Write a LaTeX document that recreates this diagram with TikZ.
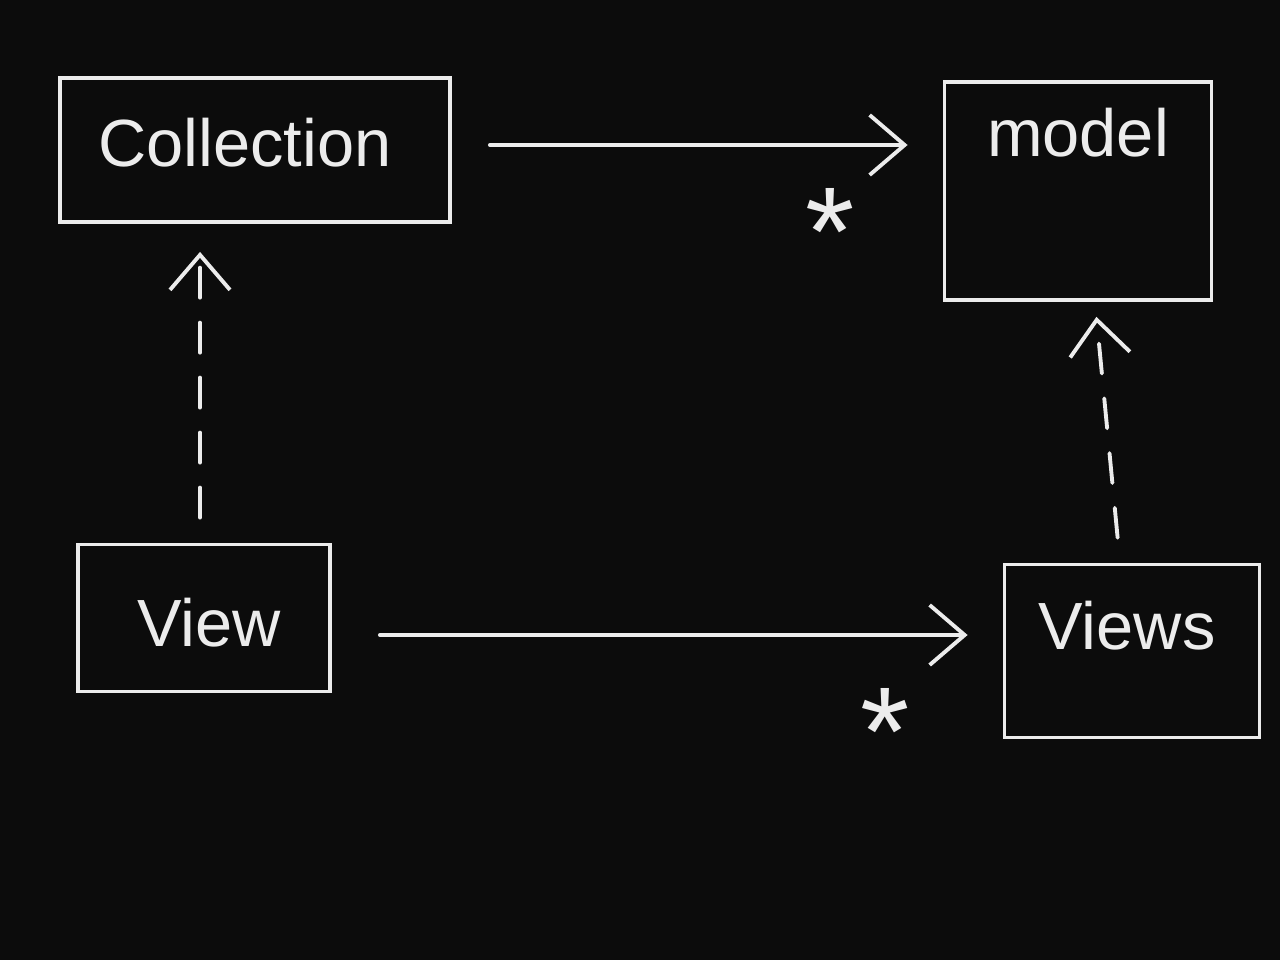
\documentclass[tikz,border=0pt]{standalone}
\usepackage{fontspec}
\setmainfont{Liberation Sans}
\usetikzlibrary{arrows.meta}
\definecolor{chalk}{HTML}{ECECEC}
\definecolor{board}{HTML}{0C0C0C}
\begin{document}
\begin{tikzpicture}[x=0.02cm,y=-0.02cm,
  box/.style={draw=chalk, line width=2.2pt, rectangle, inner sep=0pt, text=chalk,
    font=\fontsize{38}{40}\selectfont},
  txt/.style={text=chalk, font=\fontsize{38}{40}\selectfont, inner sep=0pt},
  arr/.style={draw=chalk, line width=2.2pt, line cap=round,
    -{Straight Barb[length=0.7cm,width=1.2cm,line width=2.2pt]}},
  darr/.style={arr, dash pattern=on 0.6cm off 0.5cm},
  star/.style={text=chalk, font=\fontsize{72}{72}\selectfont, inner sep=0pt}]
\fill[board] (0,0) rectangle (1280,960);
\useasboundingbox (0,0) rectangle (1280,960);

\node[box, minimum width=7.8cm, minimum height=2.88cm,
  label={[txt, xshift=-0.2cm, yshift=0.14cm]center:Collection}] (Collection) at (255,150) {};
\node[box, minimum width=5.34cm, minimum height=4.36cm,
  label={[txt, anchor=north, yshift=-0.55cm]north:model}] (model) at (1078,191) {};
\node[box, minimum width=5.04cm, minimum height=2.94cm,
  label={[txt, xshift=0.1cm, yshift=-0.1cm]center:View}] (View) at (204,618) {};
\node[box, minimum width=5.1cm, minimum height=3.46cm,
  label={[txt, xshift=-0.1cm, yshift=0.5cm]center:Views}] (Views) at (1132,651) {};

\draw[arr, shorten <=0.76cm, shorten >=0.7cm] ([yshift=0.1cm]Collection.east) -- ([yshift=0.1cm]Collection.east -| model.west);
\draw[arr, shorten <=0.96cm, shorten >=0.7cm] ([yshift=-0.34cm]View.east) -- ([yshift=-0.34cm]View.east -| Views.west);

\draw[darr, shorten <=0.5cm, shorten >=0.56cm] ([xshift=-0.08cm]View.north) -- ([xshift=-0.08cm]View.north |- Collection.south);
\draw[darr, shorten <=0.5cm, shorten >=0.3cm] ([xshift=-0.24cm]Views.north) -- ([xshift=0.34cm]model.south);

\node[star] (star1) at (830,232) {*};
\node[star] (star2) at (885,732) {*};
\end{tikzpicture}
\end{document}
